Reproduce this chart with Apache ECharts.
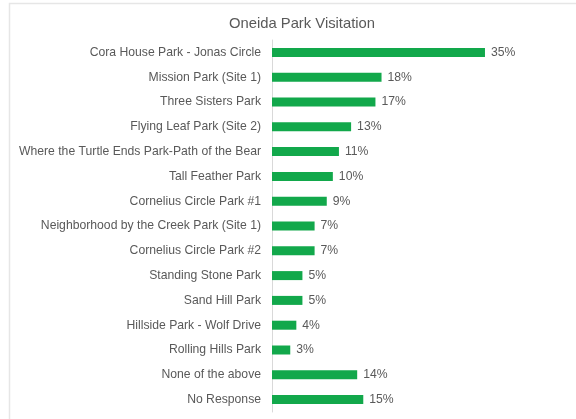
<!DOCTYPE html>
<html>
<head>
<meta charset="utf-8">
<script src="https://cdn.jsdelivr.net/npm/echarts@6/dist/echarts.min.js"></script>
<style>
  html, body { margin: 0; padding: 0; background: #ffffff; }
  #chart { width: 576px; height: 419px; }
</style>
</head>
<body>
<div id="chart"></div>
<script>
// Park names, top to bottom
const parks = [
  'Cora House Park - Jonas Circle',
  'Mission Park (Site 1)',
  'Three Sisters Park',
  'Flying Leaf Park (Site 2)',
  'Where the Turtle Ends Park-Path of the Bear',
  'Tall Feather Park',
  'Cornelius Circle Park #1',
  'Neighborhood by the Creek Park (Site 1)',
  'Cornelius Circle Park #2',
  'Standing Stone Park',
  'Sand Hill Park',
  'Hillside Park - Wolf Drive',
  'Rolling Hills Park',
  'None of the above',
  'No Response'
];
// Share of respondents (%)
const visitPct = [35, 18, 17, 13, 11, 10, 9, 7, 7, 5, 5, 4, 3, 14, 15];

const chart = echarts.init(document.getElementById('chart'), null, { renderer: 'canvas' });
const textColor = '#595959';
const fontFamily = '"Liberation Sans", Arial, sans-serif';

chart.setOption({
  backgroundColor: '#ffffff',
  animation: false,
  title: {
    text: 'Oneida Park Visitation',
    left: 297,
    top: 11,
    textAlign: 'center',
    textStyle: { color: textColor, fontSize: 14.8, fontWeight: 'normal', fontFamily: fontFamily }
  },
  graphic: [{
    type: 'rect',
    shape: { x: 9.5, y: 3.5, width: 700, height: 600 },
    style: { fill: 'none', stroke: '#e6e6e6', lineWidth: 1.5 },
    silent: true,
    z: -1
  }],
  grid: { left: 272, right: 60.6, top: 40, bottom: 7, containLabel: false },
  xAxis: {
    type: 'value',
    min: 0,
    max: 40,
    show: false,
    splitLine: { show: false }
  },
  yAxis: {
    type: 'category',
    data: parks,
    inverse: true,
    axisLine: { show: true, lineStyle: { color: '#d9d9d9', width: 1 } },
    axisTick: { show: false },
    axisLabel: { color: textColor, fontSize: 12.2, fontFamily: fontFamily, margin: 11 }
  },
  series: [{
    type: 'bar',
    data: visitPct,
    barWidth: 9,
    itemStyle: { color: '#12a84b' },
    label: {
      show: true,
      position: 'right',
      distance: 6,
      formatter: p => p.value + '%',
      color: textColor,
      fontSize: 12.2,
      fontFamily: fontFamily
    }
  }]
});
</script>
</body>
</html>
